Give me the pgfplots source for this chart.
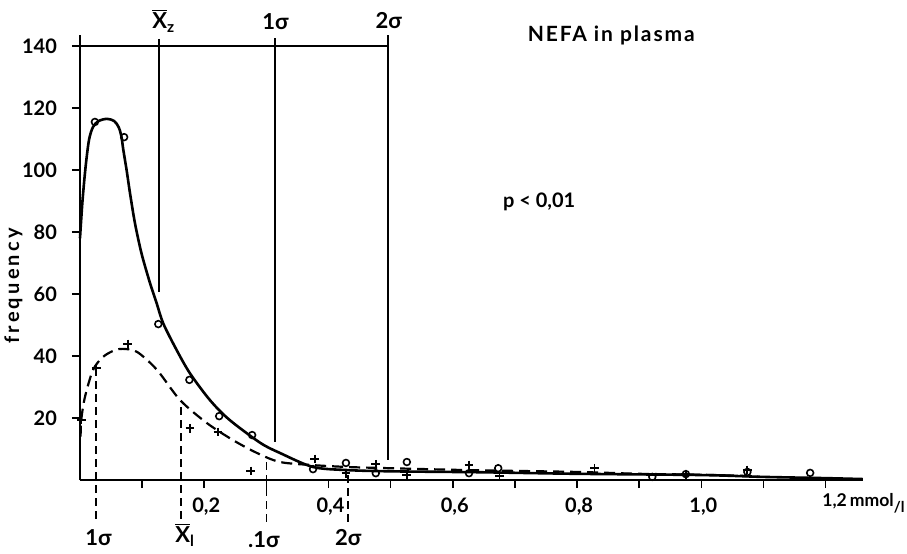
\documentclass[border=0pt]{standalone}
\usepackage{fontspec}
\setmainfont{Lato}
\usepackage{pgfplots}
\pgfplotsset{compat=1.18}
\newcommand{\Xbar}{\ensuremath{\overline{\hbox{X}}}}
\begin{document}
\begin{tikzpicture}
\path[use as bounding box] (-40pt,-36.5pt) rectangle (413.5pt,240pt);
\begin{axis}[
  x=310.7pt, y=1.55pt,
  xmin=0, xmax=1.26, ymin=0, ymax=143.5,
  axis lines=left,
  axis line style={line width=1pt,-},
  clip=false,
  xtick={0.1,0.2,0.3,0.4,0.5,0.6,0.7,0.8,0.9,1.0,1.1,1.2},
  xticklabels={,{0,2},,{0,4},,{0,6},,{0,8},,{1,0},,{}},
  ytick={20,40,60,80,100,120,140},
  tick align=outside,
  major tick length=4pt,
  tick style={line width=0.8pt,black},
  /pgf/number format/assume math mode=true,
  tick label style={font=\fontsize{10}{11}\selectfont\bfseries},
  yticklabel style={xshift=-4pt},
  xticklabel style={yshift=-1.5pt,xshift=1pt},
]
% bracket lines at top
\addplot[black,line width=0.9pt] coordinates {(0,140) (0.496,140)};
\addplot[black,line width=0.9pt] coordinates {(0.1277,142.3) (0.1277,60.7)};
\addplot[black,line width=0.9pt] coordinates {(0.314,142.5) (0.314,12.3)};
\addplot[black,line width=0.9pt] coordinates {(0.496,143.5) (0.496,6.5)};
% dashed verticals below
\addplot[black,line width=0.9pt,dash pattern=on 4pt off 2.5pt] coordinates {(0.026,36.1) (0.026,-13.5)};
\addplot[black,line width=0.9pt,dash pattern=on 4pt off 2.5pt] coordinates {(0.163,23.5) (0.163,-13.5)};
\addplot[black,line width=0.9pt,dash pattern=on 4pt off 2.5pt] coordinates {(0.300,5.8) (0.300,-13.5)};
\addplot[black,line width=0.9pt,dash pattern=on 4pt off 2.5pt] coordinates {(0.431,1.6) (0.431,-13.5)};
% solid curve
\addplot[black,line width=1.3pt] coordinates {(0,39) (0,78)};
\addplot[black,line width=1.3pt,smooth,tension=0.5] coordinates {
(0,78) (0.004,90) (0.009,101) (0.0145,109.7) (0.021,113.9) (0.03,115.8) (0.0435,116.5)
(0.055,115.8) (0.062,113.9) (0.0665,111) (0.0697,106.5) (0.075,100) (0.0805,92.5)
(0.0885,82.8) (0.099,73.1) (0.1127,63.5) (0.1234,57) (0.134,50.5) (0.1556,41.9)
(0.177,34.4) (0.209,25.8) (0.24,19.5) (0.29,12) (0.322,8.7) (0.375,4.2)
(0.43,3.2) (0.5,2.8) (0.644,2.5) (0.8,2.0) (1.0,1.6) (1.1,1.0) (1.2,0.6) (1.26,0.3)};
% dashed curve
\addplot[black,line width=1.1pt,smooth,tension=0.5,dash pattern=on 5.5pt off 3pt] coordinates {
(0.001,14) (0.002,19.4) (0.008,26.8) (0.021,35.5) (0.037,39.7) (0.055,41.8) (0.069,42.3)
(0.092,41.3) (0.124,35.5) (0.161,25.8) (0.204,18.4) (0.246,12.9) (0.285,8.7) (0.322,5.8)
(0.375,4.8) (0.43,4.2) (0.48,3.9) (0.623,3.2) (0.8,2.6) (0.9,2.0) (1.0,1.7) (1.09,1.2)};
% circles
\addplot[only marks,mark=o,mark size=1.7pt,line width=0.8pt,black] coordinates {
(0.024,115.5) (0.071,110.6) (0.126,50.3) (0.176,32.3) (0.224,20.6) (0.277,14.5)
(0.375,3.5) (0.428,5.5) (0.476,2.2) (0.526,5.8) (0.626,2.2) (0.673,3.8)
(0.921,1.0) (0.975,1.9) (1.074,2.6) (1.175,2.3)};
% plus marks
\addplot[only marks,mark=+,mark size=2.2pt,line width=0.9pt,black] coordinates {
(0.002,19.4) (0.026,36.1) (0.077,43.9) (0.177,16.7) (0.222,15.5) (0.275,2.9)
(0.378,6.8) (0.428,2.2) (0.476,5.1) (0.526,1.6) (0.626,4.8) (0.675,1.2)
(0.828,3.8) (0.975,1.9) (1.074,3.2)};
% texts
\node[font=\fontsize{10.5}{12}\selectfont\bfseries\addfontfeature{LetterSpace=9}] at (axis cs:0.855,143.5) {NEFA in plasma};
\node[font=\fontsize{10}{12}\selectfont\bfseries] at (axis cs:0.739,89.7) {p < 0,01};
\node[font=\fontsize{10}{12}\selectfont\bfseries\addfontfeature{LetterSpace=16},rotate=90] at (axis cs:-0.107,62.6) {frequency};
\node[font=\fontsize{11}{12}\selectfont\bfseries,anchor=base west,inner sep=0pt] at (axis cs:0.116,145.5) {\Xbar\textsubscript{z}};
\node[font=\fontsize{11}{12}\selectfont\bfseries,anchor=base west,inner sep=0pt] at (axis cs:0.293,145.2) {1σ};
\node[font=\fontsize{11}{12}\selectfont\bfseries,anchor=base west,inner sep=0pt] at (axis cs:0.475,145.8) {2σ};
\node[font=\fontsize{11}{12}\selectfont\bfseries,anchor=base west,inner sep=0pt] at (axis cs:0.008,-21) {1σ};
\node[font=\fontsize{11}{12}\selectfont\bfseries,anchor=base west,inner sep=0pt] at (axis cs:0.153,-20.3) {\Xbar\textsubscript{l}};
\node[font=\fontsize{11}{12}\selectfont\bfseries,anchor=base west,inner sep=0pt] at (axis cs:0.27,-21.9) {.1σ};
\node[font=\fontsize{11}{12}\selectfont\bfseries,anchor=base west,inner sep=0pt] at (axis cs:0.41,-21) {2σ};
\node[font=\fontsize{8.8}{10}\selectfont\bfseries,anchor=base west,inner sep=0pt] at (axis cs:1.194,-8.7) {1,2\,mmol\raisebox{-0.6ex}{\fontsize{7.5}{9}\selectfont /l}};
\end{axis}
\end{tikzpicture}
\end{document}
